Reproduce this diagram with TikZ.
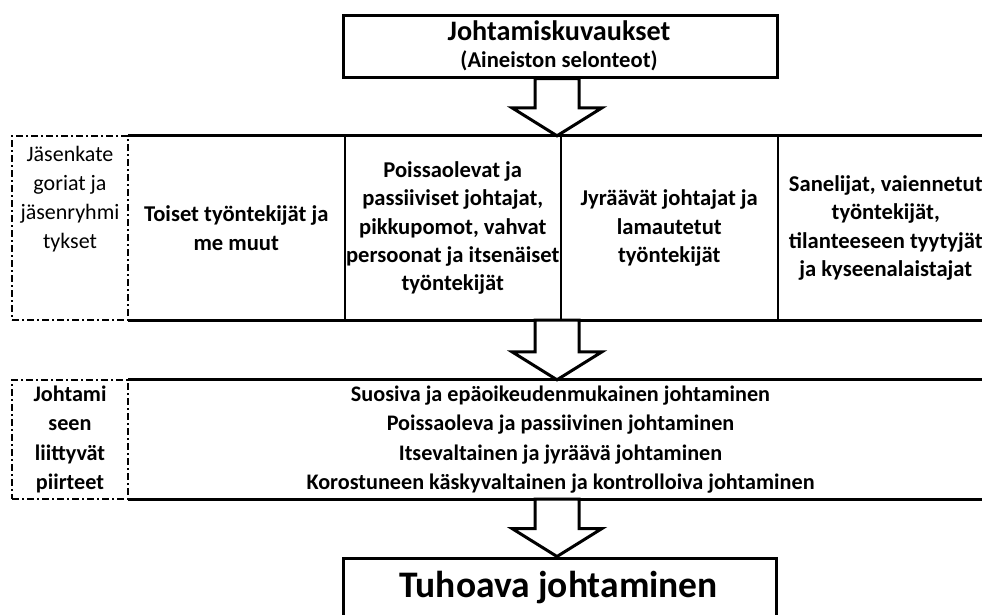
\documentclass[tikz,border=0pt]{standalone}
\usepackage{fontspec}
\setmainfont{Carlito}
\usetikzlibrary{calc}
\newcommand\blkarrow[2]{%
  \draw[arrowstyle] ($(#1)+(-22,0)$) -- ($(#1)+(22,0)$) -- ($(#2)+(22,-28)$) -- ($(#2)+(45,-28)$) -- (#2) -- ($(#2)+(-45,-28)$) -- ($(#2)+(-22,-28)$) -- cycle;}
\begin{document}
\begin{tikzpicture}[x=1pt,y=-1pt,
  thickline/.style={line width=3pt},
  divider/.style={line width=2pt},
  cell/.style={minimum width=216.5pt, minimum height=184pt, inner sep=0pt, align=center, font=\fontsize{22.6}{28.3}\selectfont\bfseries},
  dashbox/.style={draw, line width=2pt, dash pattern=on 7pt off 3pt on 2pt off 3pt, minimum width=116pt, inner sep=0pt},
  arrowstyle/.style={draw, fill=white, line width=3pt, line join=miter},
  plainbox/.style={draw, line width=3pt, inner sep=0pt}
]
\useasboundingbox (0,0) rectangle (982,614);
\clip (0,0) rectangle (982,614);

% top box
\node[plainbox, minimum width=434pt, minimum height=62pt] (top) at (560,46) {};
\node[font=\fontsize{28.2}{32}\selectfont\bfseries, anchor=base, inner sep=0pt] (title) at (559,40.5) {Johtamiskuvaukset};
\node[font=\fontsize{22.6}{26}\selectfont\bfseries, anchor=base, inner sep=0pt] (subtitle) at (559,67.5) {(Aineiston selonteot)};

% member categories row
\node[dashbox, minimum height=184pt] (d1) at (70,228) {};
\node[align=center, font=\fontsize{22}{29}\selectfont, inner sep=0pt] (d1t) at (70,199) {Jäsenkate\\goriat ja\\jäsenryhmi\\tykset};
\node[cell] (c1) at (236.25,228) {Toiset työntekijät ja\\me muut};
\node[cell] (c2) at (452.75,228) {Poissaolevat ja\\passiiviset johtajat,\\pikkupomot, vahvat\\persoonat ja itsenäiset\\työntekijät};
\node[cell] (c3) at (669.25,228) {Jyräävät johtajat ja\\lamautetut\\työntekijät};
\node[cell] (c4) at (885.75,228) {Sanelijat, vaiennetut\\työntekijät,\\tilanteeseen tyytyjät\\ja kyseenalaistajat};
\draw[divider] (c1.north east) -- (c1.south east);
\draw[divider] (c2.north east) -- (c2.south east);
\draw[divider] (c3.north east) -- (c3.south east);
\draw[thickline] (c1.north west) -- (c4.north east);
\draw[thickline] (c1.south west) -- (c4.south east);

% leadership features row
\node[dashbox, minimum height=119pt, align=center, font=\fontsize{22.2}{29.3}\selectfont\bfseries] (d2) at (70,439.5) {Johtami\\seen\\liittyvät\\piirteet};
\node[minimum width=865pt, minimum height=119pt, inner sep=0pt, align=center, font=\fontsize{22.2}{29.3}\selectfont\bfseries] (L) at (560.5,439.5) {Suosiva ja epäoikeudenmukainen johtaminen\\Poissaoleva ja passiivinen johtaminen\\Itsevaltainen ja jyräävä johtaminen\\Korostuneen käskyvaltainen ja kontrolloiva johtaminen};
\draw[thickline] (L.north west) -- (L.north east);
\draw[thickline] (L.south west) -- (L.south east);

% final box
\node[plainbox, minimum width=433pt, minimum height=90pt] (fin) at (559.5,603) {};
\node[font=\fontsize{37.5}{42}\selectfont\bfseries, anchor=base, inner sep=0pt] (fint) at (558.5,597) {Tuhoava johtaminen};

% arrows
\coordinate (a1s) at ($(top.south)+(-3,0)$);
\coordinate (a1e) at (a1s |- c2.north);
\coordinate (a2s) at (a1s |- c2.south);
\coordinate (a2e) at (a1s |- L.north);
\coordinate (a3s) at (a1s |- L.south);
\coordinate (a3e) at (a1s |- fin.north);
\blkarrow{a1s}{a1e}
\blkarrow{a2s}{a2e}
\blkarrow{a3s}{a3e}
\end{tikzpicture}
\end{document}
